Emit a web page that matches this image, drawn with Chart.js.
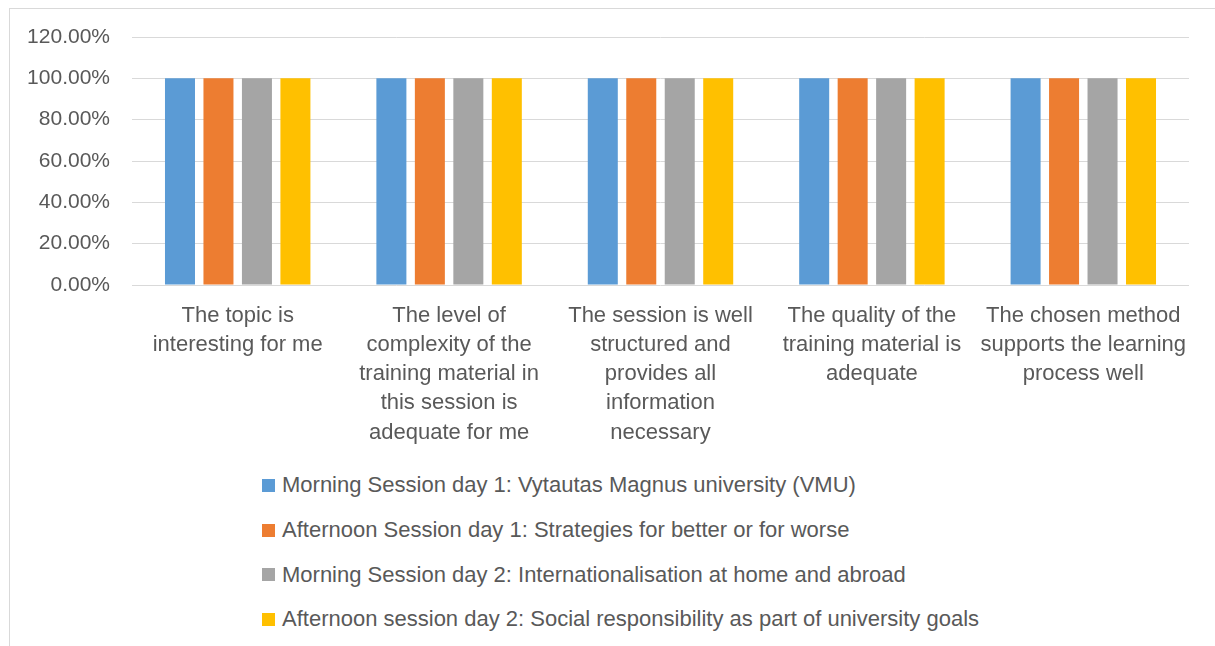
<!DOCTYPE html>
<html>
<head>
<meta charset="utf-8">
<script src="https://cdn.jsdelivr.net/npm/chart.js@4.4.1/dist/chart.umd.min.js"></script>
<style>
  body { margin: 0; background: #fff; font-family: "Liberation Sans", sans-serif; }
  #frame { position: absolute; left: 9px; top: 8px; width: 1300px; height: 700px; border: 1px solid #d9d9d9; }
  #wrap { position: absolute; left: 0; top: 0; width: 1215px; height: 450px; }
  #legenda { position: absolute; left: 262px; top: 463px; color: #595959; font-size: 22px; }
  .item { height: 44.7px; display: flex; align-items: center; }
  .caixa { width: 13px; height: 13px; margin-right: 7px; }
</style>
</head>
<body>
<div id="frame"></div>
<div id="wrap"><canvas id="grafico"></canvas></div>
<div id="legenda"></div>
<script>
// categorias (eixo x), já partidas em linhas como na imagem
const categorias = [
    ["The topic is", "interesting for me"],
    ["The level of", "complexity of the", "training material in", "this session is", "adequate for me"],
    ["The session is well", "structured and", "provides all", "information", "necessary"],
    ["The quality of the", "training material is", "adequate"],
    ["The chosen method", "supports the learning", "process well"]
];

const series = [
    "Morning Session day 1: Vytautas Magnus university (VMU)",
    "Afternoon Session day 1: Strategies for better or for worse",
    "Morning Session day 2: Internationalisation at home and abroad",
    "Afternoon session day 2: Social responsibility as part of university goals"
];
const cores = ['#5b9bd5', '#ed7d31', '#a5a5a5', '#ffc000'];

const manhaDia1 = [1, 1, 1, 1, 1];
const tardeDia1 = [1, 1, 1, 1, 1];
const manhaDia2 = [1, 1, 1, 1, 1];
const tardeDia2 = [1, 1, 1, 1, 1];
const valores = [manhaDia1, tardeDia1, manhaDia2, tardeDia2];

const ticksY = [0, 0.2, 0.4, 0.6, 0.8, 1.0, 1.2];

const corTexto = '#595959';
const fonte = "'Liberation Sans', sans-serif";

const ctx = document.getElementById('grafico');
const grafico = new Chart(ctx, {
    type: 'bar',
    data: {
        labels: categorias,
        datasets: series.map((nome, i) => ({
            label: nome,
            data: valores[i],
            backgroundColor: cores[i],
            borderWidth: 0,
            categoryPercentage: 0.728,
            barPercentage: 0.78
        }))
    },
    options: {
        responsive: true,
        maintainAspectRatio: false,
        animation: false,
        layout: { padding: { top: 37, right: 26, left: 0, bottom: 0 } },
        plugins: { legend: { display: false }, tooltip: { enabled: false } },
        scales: {
            x: {
                grid: { display: false, drawTicks: false },
                border: { display: false },
                ticks: { color: corTexto, font: { family: fonte, size: 22, lineHeight: 1.33 }, padding: 16, maxRotation: 0, autoSkip: false },
                afterFit: s => { s.height = 450 - 285; }
            },
            y: {
                min: 0, max: 1.2,
                afterBuildTicks: s => { s.ticks = ticksY.map(v => ({ value: v })); },
                grid: { color: '#d9d9d9', lineWidth: 1, drawTicks: false },
                border: { display: false },
                ticks: {
                    color: corTexto, font: { family: fonte, size: 21 }, padding: 22,
                    callback: v => (v * 100).toFixed(2) + '%'
                },
                afterFit: s => { s.width = 132; }
            }
        }
    }
});

// legenda em lista vertical, a partir dos datasets
const legenda = document.getElementById('legenda');
grafico.data.datasets.forEach(ds => {
    const item = document.createElement('div');
    item.className = 'item';
    item.innerHTML = `<span class="caixa" style="background:${ds.backgroundColor}"></span><span>${ds.label}</span>`;
    legenda.appendChild(item);
});
</script>
</body>
</html>
